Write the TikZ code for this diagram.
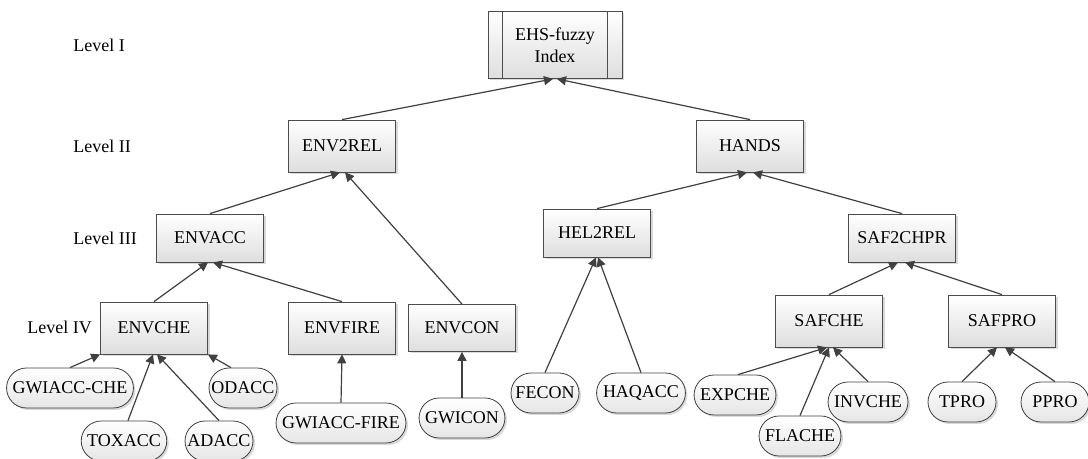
\documentclass[tikz,border=0pt]{standalone}
\usepackage{fontspec}
\setmainfont{Liberation Serif}
\usetikzlibrary{arrows.meta,shapes.misc,shadows}
\tikzset{
  box/.style={draw=black!70, top color=white, bottom color=black!13, drop shadow={opacity=0.3,shadow xshift=1pt,shadow yshift=-1pt}, minimum width=53.5pt, minimum height=26pt, inner sep=1pt, font=\fontsize{9}{11}\selectfont},
  leaf/.style={rounded rectangle, draw=black!75, top color=white, bottom color=black!10, drop shadow={opacity=0.3,shadow xshift=1pt,shadow yshift=-1pt}, minimum width=39pt, minimum height=20pt, inner xsep=2.5pt, inner ysep=1pt, font=\fontsize{9}{11}\selectfont},
  link/.style={draw=black!75, line width=0.6pt, -{Triangle[length=4.5pt,width=4.5pt]}},
  lvl/.style={anchor=west, inner sep=0pt, font=\fontsize{9}{11}\selectfont}
}
\begin{document}
\begin{tikzpicture}[x=0.5pt, y=-0.5pt]
  \useasboundingbox (0,0) rectangle (1088,459);
  \node[lvl] at (73,45) {Level I};
  \node[lvl] at (73,146) {Level II};
  \node[lvl] at (73,238) {Level III};
  \node[lvl] at (27,327) {Level IV};
  \node[box, minimum width=67pt, minimum height=33.5pt, align=center] (ehs) at (555,45) {EHS-fuzzy\\Index};
  \draw[black!70] ([xshift=7.5pt]ehs.north west) -- ([xshift=7.5pt]ehs.south west);
  \draw[black!70] ([xshift=-7.5pt]ehs.north east) -- ([xshift=-7.5pt]ehs.south east);
  \node[box] (env2rel) at (342,146) {ENV2REL};
  \node[box] (hands) at (750,146) {HANDS};
  \node[box, minimum height=24pt] (envacc) at (210,238) {ENVACC};
  \node[box, minimum height=24pt] (hel2rel) at (597,233) {HEL2REL};
  \node[box, minimum height=24pt] (saf2chpr) at (902,238) {SAF2CHPR};
  \node[box] (envche) at (154,328) {ENVCHE};
  \node[box] (envfire) at (342,328) {ENVFIRE};
  \node[box, minimum height=23.5pt] (envcon) at (462,328) {ENVCON};
  \node[box] (safche) at (829,321) {SAFCHE};
  \node[box] (safpro) at (1002,321) {SAFPRO};
  \node[leaf] (gwiaccche) at (70,388) {GWIACC-CHE};
  \node[leaf] (odacc) at (243,388) {ODACC};
  \node[leaf] (toxacc) at (124,441) {TOXACC};
  \node[leaf] (adacc) at (219,441) {ADACC};
  \node[leaf] (gwiaccfire) at (341,423) {GWIACC-FIRE};
  \node[leaf] (gwicon) at (462,418) {GWICON};
  \node[leaf] (fecon) at (545,393) {FECON};
  \node[leaf] (haqacc) at (641,393) {HAQACC};
  \node[leaf] (expche) at (735,395) {EXPCHE};
  \node[leaf] (flache) at (800,436) {FLACHE};
  \node[leaf] (invche) at (868,402) {INVCHE};
  \node[leaf] (tpro) at (962,402) {TPRO};
  \node[leaf] (ppro) at (1055,402) {PPRO};
  \draw[link] (env2rel.north) -- ([xshift=-1pt]ehs.south);
  \draw[link] (hands.north) -- ([xshift=1pt]ehs.south);
  \draw[link] (envacc.north) -- ([xshift=-1pt]env2rel.south);
  \draw[link] (envcon.north) -- ([xshift=1.5pt]env2rel.south);
  \draw[link] (envche.north) -- ([xshift=-1pt]envacc.south);
  \draw[link] (envfire.north) -- ([xshift=1.5pt]envacc.south);
  \draw[link] (gwiaccche.north) -- (envche.south west);
  \draw[link] ([xshift=2pt]toxacc.north) -- ([xshift=-0.5pt]envche.south);
  \draw[link] (adacc.north) -- ([xshift=1.5pt]envche.south);
  \draw[link] ([xshift=-6pt]odacc.north) -- (envche.south east);
  \draw[link] (gwiaccfire.north) -- (envfire.south);
  \draw[link] (gwicon.north) -- (envcon.south);
  \draw[link] (hel2rel.north) -- ([xshift=-1.5pt]hands.south);
  \draw[link] (saf2chpr.north) -- ([xshift=1.5pt]hands.south);
  \draw[link] (fecon.north) -- ([xshift=-0.5pt]hel2rel.south);
  \draw[link] (haqacc.north) -- ([xshift=0.5pt]hel2rel.south);
  \draw[link] (safche.north) -- ([xshift=-2pt]saf2chpr.south);
  \draw[link] (safpro.north) -- ([xshift=1.5pt]saf2chpr.south);
  \draw[link] ([xshift=1.5pt]expche.north) -- ([xshift=-1pt]safche.south);
  \draw[link] (flache.north) -- (safche.south);
  \draw[link] (invche.north) -- ([xshift=2pt]safche.south);
  \draw[link] (tpro.north) -- ([xshift=-2.5pt]safpro.south);
  \draw[link] (ppro.north) -- ([xshift=1.5pt]safpro.south);
\end{tikzpicture}
\end{document}
